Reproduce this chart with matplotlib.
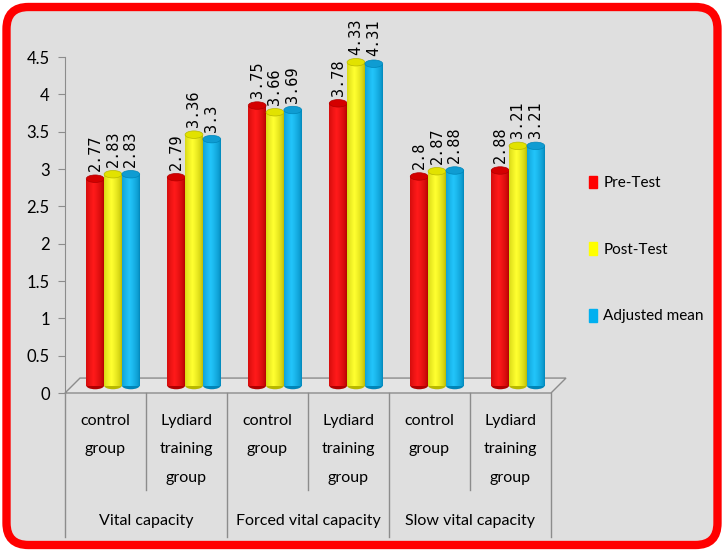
import matplotlib.pyplot as plt
import matplotlib.patches as mpatches
import matplotlib.transforms as mtransforms
import numpy as np
from matplotlib.colors import LinearSegmentedColormap

# chart data
groups = ["Vital capacity", "Forced vital capacity", "Slow vital capacity"]
subgroups = ["control\ngroup", "Lydiard\ntraining\ngroup"] * 3
series = ["Pre-Test", "Post-Test", "Adjusted mean"]
pre_test = [2.77, 2.79, 3.75, 3.78, 2.8, 2.88]
post_test = [2.83, 3.36, 3.66, 4.33, 2.87, 3.21]
adjusted = [2.83, 3.3, 3.69, 4.31, 2.88, 3.21]
yticks = [0, 0.5, 1, 1.5, 2, 2.5, 3, 3.5, 4, 4.5]

# (edge shade, bright shade, top cap)
colors = [("#B00000", "#FF1A1A", "#D40000"),
          ("#B8B800", "#FFFF30", "#E2E200"),
          ("#0085B8", "#22C4FA", "#0F9CD2")]

plt.rcParams['font.family'] = ['Lato', 'DejaVu Sans']
bg = "#DFDFDF"
W, H = 724, 551

fig = plt.figure(figsize=(W / 100, H / 100), dpi=100)
fig.patch.set_facecolor("white")

# rounded red frame
frame = mpatches.FancyBboxPatch((0.065, 0.06), 7.11, 5.38,
                                boxstyle="round,pad=0,rounding_size=0.22",
                                transform=fig.dpi_scale_trans,
                                facecolor=bg, edgecolor="#FF0000", linewidth=6,
                                zorder=-5)
fig.patches.append(frame)

ax = fig.add_axes([65 / W, 1 - 393 / H, 486 / W, 336 / H])
ax.patch.set_alpha(0)

dx, dy = 0.185, 0.2     # depth of the 3d floor in data units
w = 0.22                # bar width
eh = 0.1                # ellipse height

# floor
floor = mpatches.Polygon([(0, 0), (6, 0), (6 + dx, dy), (dx, dy)], closed=True,
                         facecolor="#E4E4E4", edgecolor="#8C8C8C", linewidth=1,
                         zorder=1, clip_on=False)
ax.add_patch(floor)

grad = np.linspace(0, 1, 64)
grad = 1 - np.abs(grad - 0.42) / 0.58
grad = np.clip(grad, 0, 1) ** 0.6
grad = grad.reshape(1, -1)

x = np.arange(6) + 0.5 + dx / 2
for j, vals in enumerate([pre_test, post_test, adjusted]):
    edge, bright, top = colors[j]
    cmap = LinearSegmentedColormap.from_list("c%d" % j, [edge, bright])
    xs = x + (j - 1) * w
    z = 3 + j * 0.1
    bars = ax.bar(xs, vals, width=w, bottom=dy / 2, color=bright,
                  linewidth=0, zorder=z)
    for b, xc, v in zip(bars, xs, vals):
        im = ax.imshow(grad, extent=(xc - w / 2, xc + w / 2, dy / 2, v + dy / 2),
                       cmap=cmap, aspect='auto', zorder=z, interpolation='bilinear')
        im.set_clip_path(b)
        ax.add_patch(mpatches.Ellipse((xc, dy / 2), w, eh, facecolor=edge,
                                      edgecolor='none', zorder=z - 0.01))
        ax.add_patch(mpatches.Ellipse((xc, v + dy / 2), w, eh, facecolor=top,
                                      edgecolor=edge, linewidth=0.5, zorder=z + 0.05))
        ax.text(xc, v + dy / 2 + eh / 2 + 0.05, "{:g}".format(v), rotation=90,
                ha='center', va='bottom', family='DejaVu Sans Mono',
                fontsize=11, color="#000000", zorder=10)

ax.set_xlim(0, 6)
ax.set_ylim(0, 4.5)
for s in ["top", "right", "bottom"]:
    ax.spines[s].set_visible(False)
ax.spines["left"].set_color("#8C8C8C")
ax.set_xticks([])
ax.set_yticks(yticks)
ax.set_yticklabels(["{:g}".format(t) for t in yticks])
ax.tick_params(axis='y', length=5, color="#8C8C8C", labelsize=12, pad=6,
               labelcolor="#000000")

# two-level category axis
trans = mtransforms.blended_transform_factory(ax.transData, fig.transFigure)
for i, sub in enumerate(subgroups):
    ax.text(i + 0.5, 1 - 414 / H, sub, ha='center', va='top', linespacing=2.3,
            fontsize=11.5, color="#000000", transform=trans)
for i in range(7):
    ybot = 537 if i % 2 == 0 else 490
    ax.plot([i, i], [1 - 393 / H, 1 - ybot / H], color="#8C8C8C", lw=1,
            transform=trans, clip_on=False)
for k, g in enumerate(groups):
    ax.text(2 * k + 1, 1 - 521 / H, g, ha='center', va='center', fontsize=11.5,
            color="#000000", transform=trans)

handles = [mpatches.Patch(color=c) for c in ["#FF0000", "#FFFF00", "#00B0F0"]]
fig.legend(handles, series, loc='upper left', bbox_to_anchor=(575 / W, 1 - 162 / H),
           frameon=False, fontsize=11, labelspacing=3.4, handlelength=0.55,
           handleheight=0.9, handletextpad=0.4, labelcolor="#000000")

fig.savefig("out.png", dpi=100)
